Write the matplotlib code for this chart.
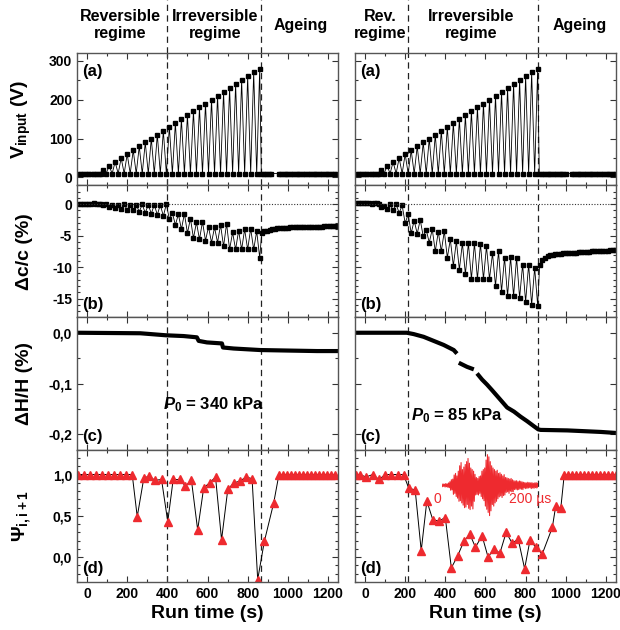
import numpy as np
import matplotlib.pyplot as plt
from matplotlib.ticker import MultipleLocator, FuncFormatter

plt.rcParams['font.family'] = ['Liberation Sans', 'DejaVu Sans']
plt.rcParams['font.weight'] = 'bold'
plt.rcParams['axes.unicode_minus'] = False
plt.rcParams['mathtext.fontset'] = 'custom'
plt.rcParams['mathtext.rm'] = 'Liberation Sans:bold'
plt.rcParams['mathtext.bf'] = 'Liberation Sans:bold'
plt.rcParams['mathtext.it'] = 'Liberation Sans:italic:bold'

RED = '#ee2a2f'

# ---------------- data ----------------
# measurement times (s)
t_pre = [-45, -32, -19, -6, 7, 20, 33, 46, 59, 70]
t_high = np.arange(80, 861, 30)          # high-voltage shots
t_low = np.arange(95, 846, 30)           # low-voltage probes in between
t_age_a_left = list(np.arange(868, 925, 12)) + list(np.arange(955, 1252, 12))
t_age_a_right = list(np.arange(868, 1005, 12)) + list(np.arange(1030, 1252, 12))
t_age_b = np.arange(870, 1252, 13)

# (a) input voltage
v_high = [20, 30, 40, 50, 60, 70, 80, 90, 100, 110, 120, 130, 140, 150, 160,
          170, 180, 190, 200, 210, 220, 230, 240, 250, 260, 270, 280]
v_base = 10

# (b) velocity change, left (P0 = 340 kPa)
dc_pre_L = [0.0, 0.0, -0.05, 0.0, 0.05, 0.0, 0.1, 0.0, -0.05, 0.0]
dc_high_L = [-0.2, -0.4, -0.6, -0.7, -0.9, -1.0, -1.2, -1.4, -1.5, -1.7, -1.9,
             -2.4, -3.3, -4.0, -4.6, -5.4, -5.6, -5.8, -6.1, -6.1, -6.7, -7.2,
             -7.2, -7.2, -7.2, -7.2, -8.5]
dc_low_L = [0.0, -0.1, -0.1, -0.05, -0.1, -0.1, -0.05, -0.1, -0.1, -0.1, 0.0,
            -1.4, -1.6, -1.5, -2.3, -2.9, -2.8, -3.6, -3.7, -3.3, -3.1, -4.5,
            -4.2, -4.0, -3.9, -4.3]
dc_age_L = [-4.6, -4.3, -4.2, -4.1, -4.0, -3.9, -3.85, -3.8, -3.8, -3.75,
            -3.75, -3.7, -3.7, -3.7, -3.7, -3.7, -3.65, -3.65, -3.65, -3.6,
            -3.6, -3.6, -3.6, -3.6, -3.55, -3.55, -3.55, -3.5, -3.5, -3.5]

# (b) velocity change, right (P0 = 85 kPa)
dc_pre_R = [0.1, 0.1, 0.1, 0.1, 0.1, 0.1, 0.05, 0.1, 0.1, 0.0]
dc_high_R = [-0.4, -0.8, -1.0, -1.4, -3.0, -4.6, -4.7, -5.1, -6.1, -7.5, -7.5,
             -8.5, -9.8, -10.4, -11.1, -11.9, -11.9, -11.9, -11.9, -13.0,
             -13.9, -14.6, -14.6, -14.9, -15.5, -16.0, -16.1]
dc_low_R = [-0.3, 0.0, 0.0, -0.2, -1.6, -2.6, -2.5, -4.1, -4.0, -4.4, -4.3,
            -5.6, -5.9, -6.2, -6.2, -6.2, -6.3, -6.7, -7.8, -7.5, -8.5, -8.4,
            -8.5, -9.6, -9.6, -10.1]
dc_age_R = [-9.6, -8.8, -8.5, -8.3, -8.1, -8.0, -7.9, -7.9, -7.85, -7.8, -7.8,
            -7.75, -7.7, -7.7, -7.7, -7.65, -7.6, -7.6, -7.6, -7.55, -7.5,
            -7.5, -7.5, -7.45, -7.4, -7.4, -7.4, -7.35, -7.3, -7.3]

# (c) height change
t_h_L = [-50, 265, 393, 481, 547, 556, 597, 672, 677, 730, 863, 1000, 1145, 1250]
dh_L = [0.0, -0.001, -0.005, -0.0065, -0.009, -0.016, -0.019, -0.021, -0.029,
        -0.031, -0.034, -0.035, -0.036, -0.036]
t_h_R = [-50, 208, 242, 292, 342, 392, 442, 458, 462, 467, 508, 542, 550, 558,
         583, 608, 633, 675, 708, 742, 775, 808, 842, 863, 875, 1008, 1175, 1250]
dh_R = [0.0, 0.0, -0.0026, -0.008, -0.016, -0.024, -0.034, -0.041, np.nan,
        -0.059, -0.067, -0.072, np.nan, -0.080, -0.092, -0.102, -0.113, -0.132,
        -0.147, -0.155, -0.165, -0.174, -0.184, -0.190, -0.191, -0.192,
        -0.195, -0.197]

# (d) waveform correlation
t_psi_L = [-45, -15, 15, 45, 75, 105, 135, 165, 195, 225, 250, 283, 311, 338,
           371, 402, 429, 462, 490, 520, 551, 581, 611, 640, 670, 701, 731,
           761, 792, 822, 850, 883, 930, 955, 975, 995, 1015, 1035, 1055, 1075,
           1095, 1115, 1135, 1155, 1175, 1195, 1215, 1235]
psi_L = [1.0, 1.0, 1.0, 1.0, 1.0, 1.0, 1.0, 1.0, 1.0, 1.0, 0.49, 0.96, 0.98,
         0.93, 0.94, 0.43, 0.94, 0.94, 0.86, 0.93, 0.33, 0.84, 0.90, 0.97,
         0.21, 0.82, 0.90, 0.92, 0.97, 0.95, -0.27, 0.19, 0.66, 0.99, 1.0, 1.0,
         1.0, 1.0, 1.0, 1.0, 1.0, 1.0, 1.0, 1.0, 1.0, 1.0, 1.0, 1.0]
t_psi_R = [-45, -25, 5, 38, 70, 100, 130, 162, 192, 217, 250, 280, 308, 338,
           370, 400, 430, 462, 492, 522, 550, 583, 613, 642, 672, 703, 733,
           763, 795, 822, 850, 883, 933, 950, 975, 992, 1012, 1032, 1052, 1072,
           1092, 1112, 1132, 1152, 1172, 1192, 1212, 1232, 1250]
psi_R = [1.0, 1.0, 0.97, 1.0, 0.94, 1.0, 1.0, 1.0, 1.0, 0.84, 0.81, 0.08, 0.68,
         0.45, 0.44, 0.48, -0.13, 0.02, 0.19, 0.28, 0.12, 0.26, 0.0, 0.10,
         0.05, 0.30, 0.17, 0.22, -0.14, 0.21, 0.12, 0.04, 0.36, 0.62, 0.59,
         0.99, 1.0, 1.0, 1.0, 1.0, 1.0, 1.0, 1.0, 1.0, 1.0, 1.0, 1.0, 1.0, 1.0]

# coda waveform shown in the inset (arbitrary units, 0-200 us)
wave = [0.03, -0.04, 0.05, -0.03, 0.04, -0.05, 0.06, -0.04, 0.05, -0.06, 0.08, -0.07,
        0.12, -0.15, 0.18, -0.14, 0.2,
        -0.28, 0.33, -0.25, 0.38, -0.35, 0.3, -0.4,
        0.45, -0.5, 0.62, -0.48, 0.72, -0.55, 0.5,
        -0.62, 0.58, -0.7, 0.66, -0.68, 0.75, -0.6, 0.85, -0.72, 0.7,
        -0.76, 0.55, -0.65, 0.5, -0.74, 0.45, -0.5,
        0.35, -0.3, 0.25, -0.28, 0.22, -0.3, 0.28, -0.25, 0.3, -0.35,
        0.45, -0.42, 0.5, -0.48, 0.55,
        -0.65, 0.8, -0.75, 0.97, -0.85, 0.9, -0.95, 0.75, -0.8,
        0.62, -0.6, 0.55, -0.65, 0.5, -0.55, 0.45, -0.5, 0.48, -0.42,
        0.38, -0.36, 0.4, -0.33, 0.35, -0.38, 0.3, -0.32, 0.34, -0.3,
        0.25, -0.22, 0.24, -0.2, 0.22, -0.25, 0.2, -0.18, 0.22, -0.2, 0.18, -0.2,
        0.15, -0.13, 0.14, -0.12, 0.15, -0.14, 0.12, -0.13, 0.14, -0.11, 0.13, -0.12, 0.11, -0.13,
        0.1, -0.08, 0.09, -0.1, 0.08, -0.09, 0.1, -0.08, 0.09, -0.07, 0.08, -0.1, 0.09,
        -0.08, 0.07, -0.09, 0.08, -0.07, 0.09, -0.08, 0.07, -0.06]

dashes_L = [400, 865]
dashes_R = [215, 860]
headers_L = [(166, 'Reversible\nregime'), (639, 'Irreversible\nregime'), (1062, 'Ageing')]
headers_R = [(75, 'Rev.\nregime'), (530, 'Irreversible\nregime'), (1070, 'Ageing')]


def interleave(hi_t, hi_v, lo_t, lo_v):
    t, v = [], []
    for i in range(len(hi_t)):
        t.append(hi_t[i]); v.append(hi_v[i])
        if i < len(lo_t):
            t.append(lo_t[i]); v.append(lo_v[i])
    return t, v


def comma(v, pos):
    s = '%.1f' % v
    if s == '-0.0':
        s = '0.0'
    return s.replace('.', ',')


# ---------------- figure ----------------
fig = plt.figure(figsize=(6.2, 6.3), dpi=100)
gs = fig.add_gridspec(4, 2, left=0.1242, right=0.9935, bottom=0.0762,
                      top=0.9159, hspace=0, wspace=0.065)
axes = np.array([[fig.add_subplot(gs[r, c]) for c in range(2)] for r in range(4)])

sq = dict(color='k', lw=0.6, marker='s', ms=2.9, mfc='k', mec='k')

for c in range(2):
    # (a)
    ax = axes[0, c]
    t_age = t_age_a_left if c == 0 else t_age_a_right
    t, v = interleave(t_high, v_high, t_low, [v_base] * len(t_low))
    ta = t_pre + t + t_age
    va = [v_base] * len(t_pre) + v + [v_base] * len(t_age)
    ax.plot(ta, va, **sq)
    ax.set_ylim(-20, 320)
    ax.yaxis.set_major_locator(MultipleLocator(100))
    ax.yaxis.set_minor_locator(MultipleLocator(50))

    # (b)
    ax = axes[1, c]
    if c == 0:
        pre, hi, lo, age = dc_pre_L, dc_high_L, dc_low_L, dc_age_L
    else:
        pre, hi, lo, age = dc_pre_R, dc_high_R, dc_low_R, dc_age_R
    t, v = interleave(t_high, hi, t_low, lo)
    ax.plot(t_pre + t + list(t_age_b), pre + v + age, **sq)
    ax.axhline(0, color='#333333', lw=0.8, ls=(0, (1, 1.5)))
    ax.set_ylim(-18, 3)
    ax.yaxis.set_major_locator(MultipleLocator(5))
    ax.yaxis.set_minor_locator(MultipleLocator(1))

    # (c)
    ax = axes[2, c]
    if c == 0:
        ax.plot(t_h_L, dh_L, color='k', lw=3.0, solid_capstyle='butt')
        ax.text(630, -0.142, '$\\mathit{P_0}$ = 340 kPa', fontsize=12,
                ha='center', va='center')
    else:
        ax.plot(t_h_R, dh_R, color='k', lw=3.0, solid_capstyle='butt')
        ax.text(460, -0.162, '$\\mathit{P_0}$ = 85 kPa', fontsize=12,
                ha='center', va='center')
    ax.set_ylim(-0.23, 0.03)
    ax.yaxis.set_major_locator(MultipleLocator(0.1))
    ax.yaxis.set_minor_locator(MultipleLocator(0.05))
    ax.yaxis.set_major_formatter(FuncFormatter(comma))

    # (d)
    ax = axes[3, c]
    if c == 0:
        ax.plot(t_psi_L, psi_L, color='k', lw=0.7, marker='^', ms=5.8,
                mfc=RED, mec=RED)
    else:
        ax.plot(t_psi_R, psi_R, color='k', lw=0.7, marker='^', ms=5.8,
                mfc=RED, mec=RED)
    ax.set_ylim(-0.3, 1.3)
    ax.yaxis.set_major_locator(MultipleLocator(0.5))
    ax.yaxis.set_minor_locator(MultipleLocator(0.1))
    ax.yaxis.set_major_formatter(FuncFormatter(comma))
    ax.set_xlabel('Run time (s)', fontsize=14, fontweight='bold', labelpad=3)

    dashes = dashes_L if c == 0 else dashes_R
    heads = headers_L if c == 0 else headers_R
    for r in range(4):
        ax = axes[r, c]
        ax.set_xlim(-50, 1250)
        ax.xaxis.set_major_locator(MultipleLocator(200))
        ax.xaxis.set_minor_locator(MultipleLocator(100))
        ax.tick_params(which='both', direction='in', top=True, right=True,
                       labelsize=10, width=0.8, color='#333333')
        ax.tick_params(which='major', length=4)
        ax.tick_params(which='minor', length=2)
        if r < 3:
            ax.tick_params(labelbottom=False)
        if c == 1:
            ax.tick_params(labelleft=False)
        for sp in ax.spines.values():
            sp.set_color('#555555')
            sp.set_linewidth(1.0)
        for x in dashes:
            ax.axvline(x, color='#222222', lw=0.9, ls=(0, (5, 3.5)), zorder=1)
        ax.text(0.02, 0.86 if r == 0 else 0.1, '(%s)' % 'abcd'[r],
                transform=ax.transAxes, fontsize=12, ha='left', va='center')

    top = axes[0, c]
    for x in dashes:
        top.plot([x, x], [1, 1.41], transform=top.get_xaxis_transform(),
                 color='#222222', lw=0.9, ls=(0, (5, 3.5)), clip_on=False)
    for x, s in heads:
        top.text(x, 1.21, s, transform=top.get_xaxis_transform(), fontsize=11.5,
                 ha='center', va='center', linespacing=1.15)

# y labels on left column
ylabels = ['V$_{\\mathrm{input}}$ (V)', '\u0394c/c (%)', '\u0394H/H (%)',
           '$\\Psi_{\\mathrm{i,i+1}}$']
for r in range(4):
    axes[r, 0].set_ylabel(ylabels[r], fontsize=14, fontweight='bold')
    axes[r, 0].yaxis.set_label_coords(-0.17, 0.5)

# inset waveform in right (d)
ins = axes[3, 1].inset_axes([0.332, 0.49, 0.37, 0.48])
ins.plot(np.linspace(0, 200, len(wave)), wave, color=RED, lw=0.8)
ins.set_xlim(0, 200)
ins.set_ylim(-1.0, 1.0)
ins.axis('off')
axes[3, 1].text(0.314, 0.624, '0', transform=axes[3, 1].transAxes, color=RED,
                fontsize=10, fontweight='normal', ha='center', va='center')
axes[3, 1].text(0.67, 0.624, '200 \u00b5s', transform=axes[3, 1].transAxes,
                color=RED, fontsize=10, fontweight='normal', ha='center',
                va='center')

fig.savefig('out.png', dpi=100)
